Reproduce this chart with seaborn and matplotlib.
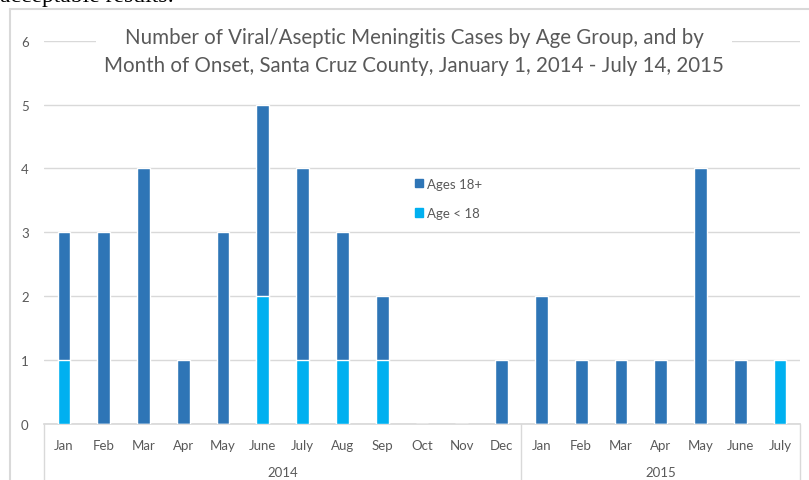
import matplotlib
matplotlib.use("Agg")
import matplotlib.pyplot as plt
from matplotlib.patches import Patch
from matplotlib.lines import Line2D
import matplotlib.transforms as mtransforms
import seaborn as sns
import pandas as pd

# data
months_2014 = ["Jan", "Feb", "Mar", "Apr", "May", "June", "July", "Aug", "Sep", "Oct", "Nov", "Dec"]
months_2015 = ["Jan", "Feb", "Mar", "Apr", "May", "June", "July"]
adult_2014 = [2, 3, 4, 1, 3, 3, 3, 2, 1, 0, 0, 1]
under18_2014 = [1, 0, 0, 0, 0, 2, 1, 1, 1, 0, 0, 0]
adult_2015 = [2, 1, 1, 1, 4, 1, 0]
under18_2015 = [0, 0, 0, 0, 0, 0, 1]
years = ["2014", "2015"]

dark_blue = "#2E75B6"
light_blue = "#00B0F0"
grid_col = "#D9D9D9"
text_col = "#595959"

rows = []
for m, a, u in zip(months_2014, adult_2014, under18_2014):
    rows.append({"slot": "2014-" + m, "month": m, "adult": a, "under18": u})
for m, a, u in zip(months_2015, adult_2015, under18_2015):
    rows.append({"slot": "2015-" + m, "month": m, "adult": a, "under18": u})
df = pd.DataFrame(rows)
df["total"] = df["adult"] + df["under18"]
order = list(df["slot"])

sns.set_theme(style="white")
plt.rcParams["font.family"] = ["Lato", "DejaVu Sans"]

fig = plt.figure(figsize=(8.09, 4.81), dpi=100)
ax = fig.add_axes([44 / 809, 1 - 425 / 481, 756 / 809, (425 - 41.7) / 481])

# stacked: total in dark blue, then under-18 part drawn on top
sns.barplot(data=df, x="slot", y="total", order=order, color=dark_blue,
            saturation=1, width=0.32, ax=ax, zorder=3)
sns.barplot(data=df, x="slot", y="under18", order=order, color=light_blue,
            saturation=1, width=0.32, ax=ax, zorder=4)

ax.set_ylim(0, 6)
ax.set_xlim(-0.5, len(order) - 0.5)
ax.set_yticks(range(7))
ax.yaxis.grid(True, color=grid_col, linewidth=1, zorder=0)
ax.set_axisbelow(True)
for s in ["top", "right", "left"]:
    ax.spines[s].set_visible(False)
ax.spines["bottom"].set_color(grid_col)
ax.set_xlabel("")
ax.set_ylabel("")
ax.set_xticks(range(len(order)))
ax.set_xticklabels(list(df["month"]))
ax.tick_params(axis="x", length=0, pad=11, labelsize=9.5, labelcolor=text_col)
ax.tick_params(axis="y", length=0, pad=11, labelsize=9.5, labelcolor=text_col)

# year labels and group separators
trans = mtransforms.blended_transform_factory(ax.transData, ax.transAxes)
n14 = len(months_2014)
edges = [-0.5, n14 - 0.5, len(order) - 0.5]
for x in edges:
    ax.add_line(Line2D([x, x], [0, -0.2], transform=trans, color=grid_col,
                       linewidth=1, clip_on=False))
ax.text((edges[0] + edges[1]) / 2, -0.125, years[0], transform=trans,
        ha="center", va="center", fontsize=9.5, color=text_col)
ax.text((edges[1] + edges[2]) / 2, -0.125, years[1], transform=trans,
        ha="center", va="center", fontsize=9.5, color=text_col)

# title with white background over the top gridline
fig.text(414 / 809, 1 - 52 / 481,
         "Number of Viral/Aseptic Meningitis Cases by Age Group, and by\n"
         "Month of Onset, Santa Cruz County, January 1, 2014 - July 14, 2015",
         ha="center", va="center", fontsize=14.8, color=text_col, linespacing=1.48,
         bbox=dict(facecolor="white", edgecolor="none", pad=6), zorder=10)

# legend
handles = [Patch(color=dark_blue, label="Ages 18+"),
           Patch(color=light_blue, label="Age < 18")]
leg = ax.legend(handles=handles, loc="upper left",
                bbox_to_anchor=((403 - 44) / 756, (425 - 167) / 383.3),
                frameon=False, handlelength=0.6, handleheight=0.6,
                handletextpad=0.3, labelspacing=1.3, fontsize=9.5)
for t in leg.get_texts():
    t.set_color(text_col)

# outer chart frame and cut-off text above it
fig.add_artist(Line2D([10 / 809, 1], [1 - 10 / 481, 1 - 10 / 481], color=grid_col, linewidth=1.5))
fig.add_artist(Line2D([10 / 809, 10 / 809], [0, 1 - 10 / 481], color=grid_col, linewidth=1.5))
fig.text(0.0, 1 - 2 / 481, "acceptable results:", ha="left", va="baseline",
         fontsize=17, family="Liberation Serif", color="black")

fig.savefig("out.png", dpi=100)
